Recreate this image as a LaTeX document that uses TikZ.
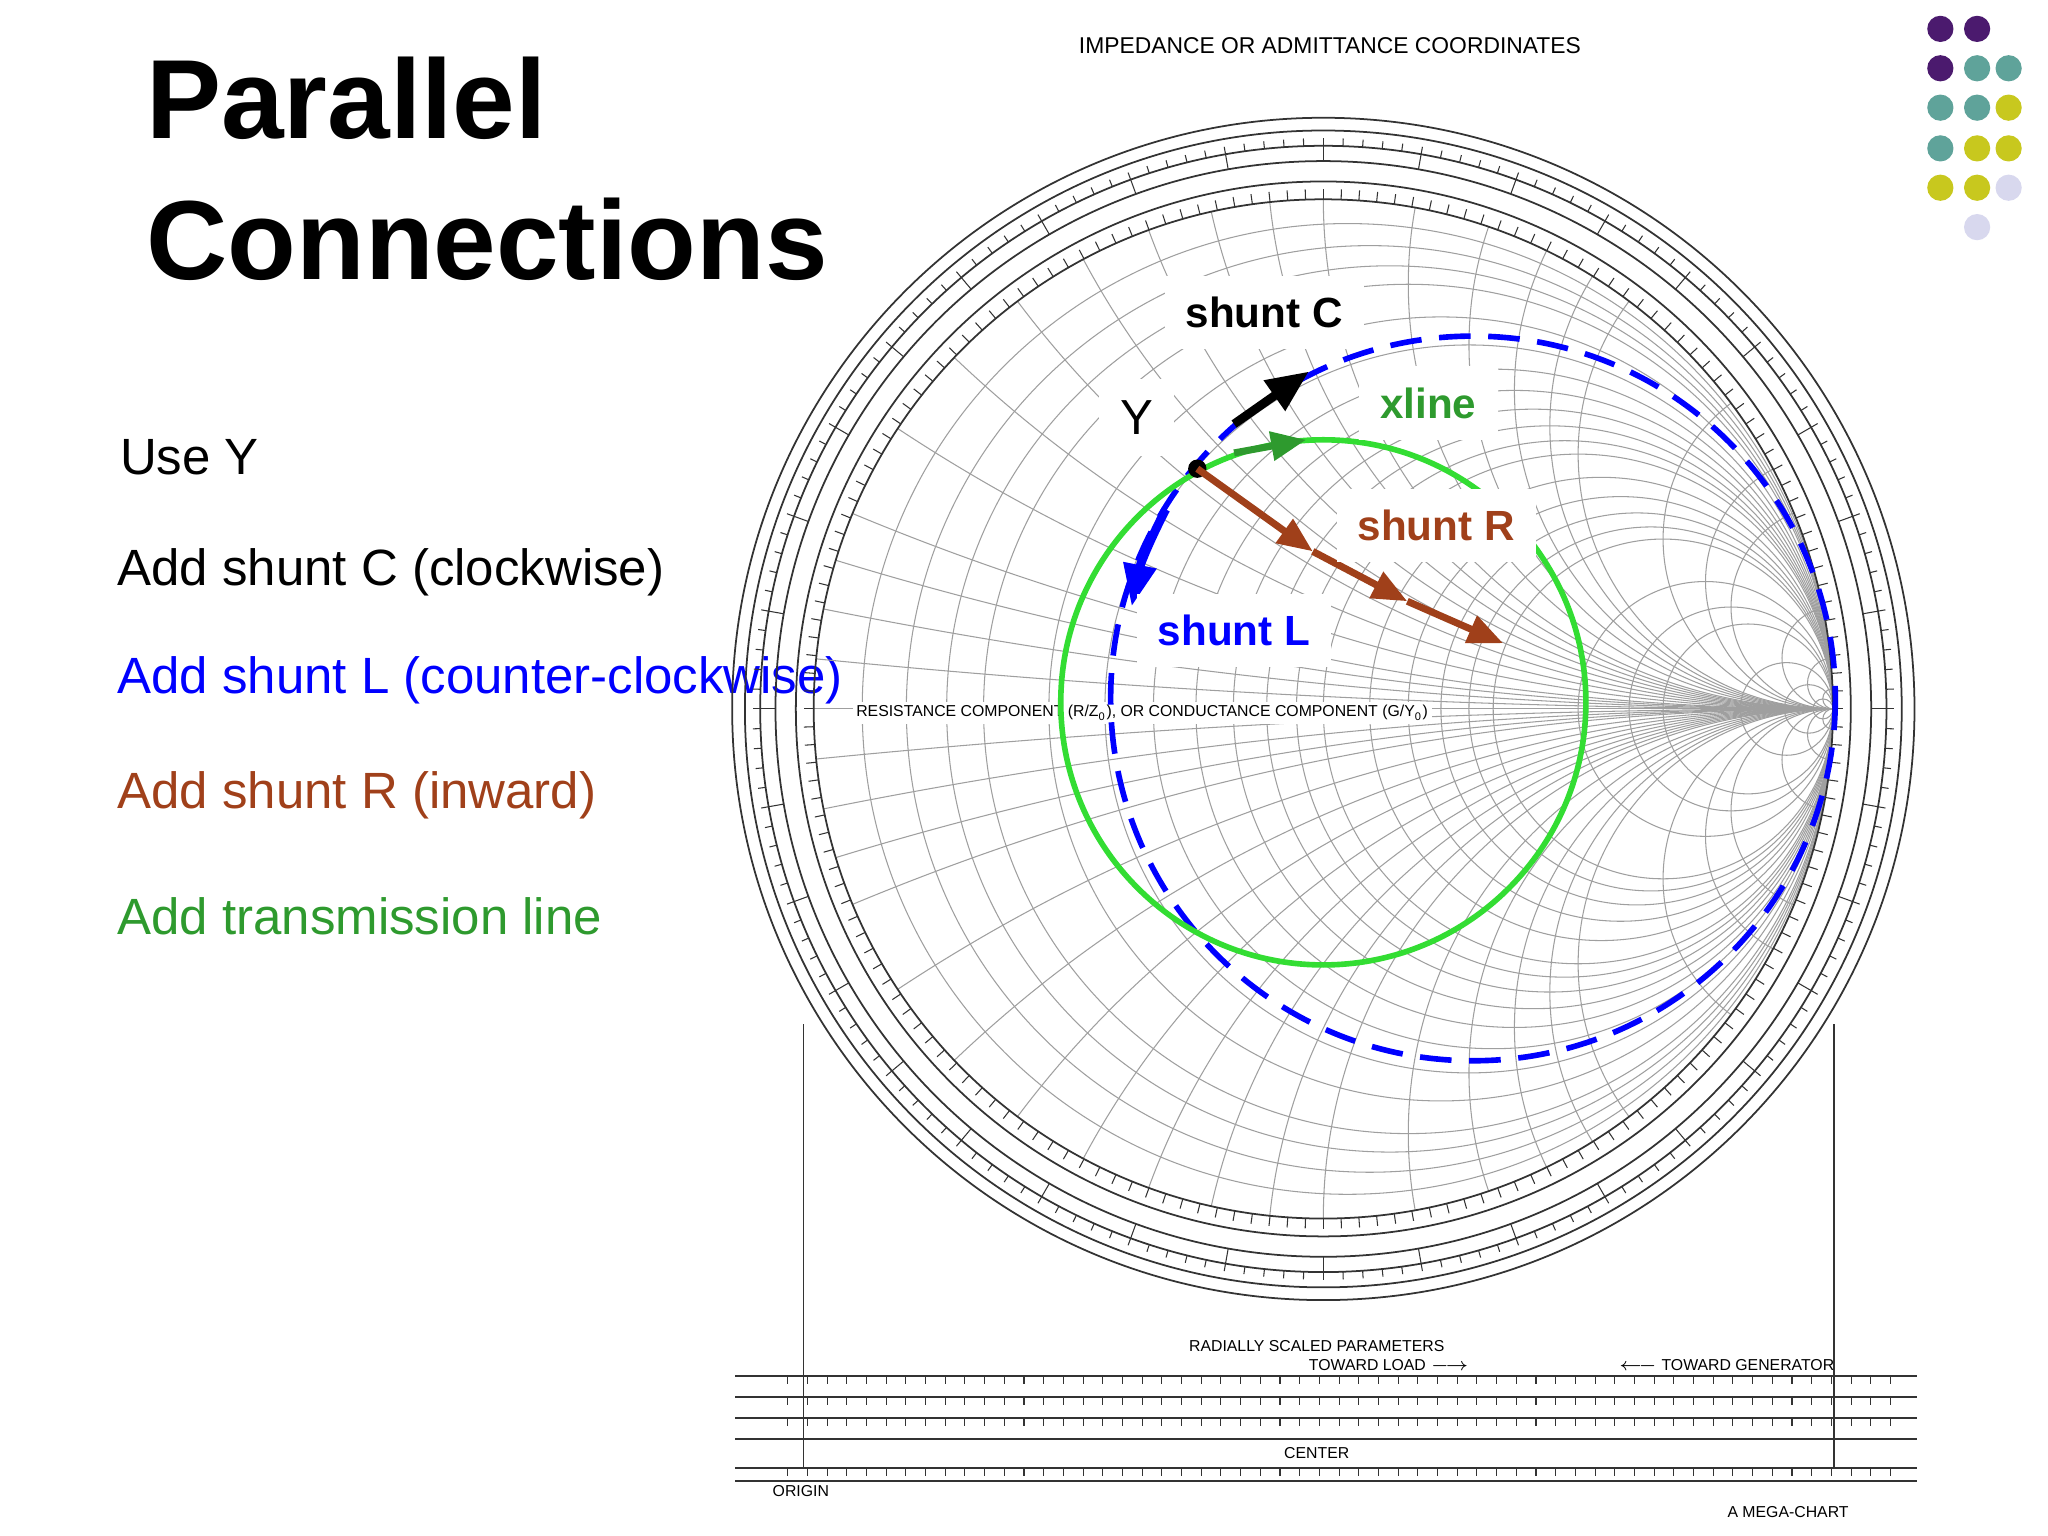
\documentclass[tikz,border=0pt]{standalone}
\usepackage{fontspec}
\setmainfont{Liberation Sans}
\usetikzlibrary{arrows.meta}
\definecolor{brn}{HTML}{A0401A}
\definecolor{grn}{HTML}{2E9A2E}
\definecolor{lgrn}{HTML}{33DD33}
\definecolor{dpur}{HTML}{4B1A6E}
\definecolor{teal2}{HTML}{5FA39A}
\definecolor{yel}{HTML}{C8C81E}
\definecolor{lav}{HTML}{D8D8EE}
\begin{document}
\begin{tikzpicture}[x=0.01313cm,y=-0.01313cm,
  grid/.style={gray!75,line width=0.3pt},
  ring/.style={black!80,line width=0.5pt},
  lab/.style={fill=white,inner sep=6pt,font=\bfseries\fontsize{12}{14}\selectfont},
  body/.style={anchor=west,font=\fontsize{14.5}{17}\selectfont},
  tiny/.style={font=\fontsize{4.5}{5}\selectfont}]
\useasboundingbox (0,0) rectangle (1560,1170);
% title
\node[anchor=west,font=\bfseries\fontsize{32}{36}\selectfont] (t1) at (102,75) {Parallel};
\node[anchor=west,font=\bfseries\fontsize{32}{36}\selectfont] (t2) at (102,182) {Connections};
\node[body] (b1) at (82,348) {Use Y};
\node[body] (b2) at (80,436) {Add shunt C (clockwise)};
\node[body,text=blue] (b3) at (80,518) {Add shunt L (counter-clockwise)};
\node[body,text=brn] (b4) at (80,606) {Add shunt R (inward)};
\node[body,text=grn] (b5) at (80,698) {Add transmission line};
% chart header
\node[font=\fontsize{6.5}{7}\selectfont] (hd) at (1013,35) {IMPEDANCE OR ADMITTANCE COORDINATES};
% Smith grid
\begin{scope}[shift={(1008,540)},x=5.094cm,y=5.094cm]
 \begin{scope}
  \clip (0,0) circle (1);
  \foreach \r in {0.05,0.1,0.15,0.2,0.3,0.4,0.5,0.6,0.7,0.8,0.9,1,1.2,1.4,1.6,1.8,2,3,4,5,10,20,50}
    \draw[grid] ({\r/(1+\r)},0) circle ({1/(1+\r)});
  \foreach \x in {0.05,0.1,0.15,0.2,0.3,0.4,0.5,0.6,0.7,0.8,0.9,1,1.2,1.4,1.6,1.8,2,3,4,5,10,20,50}{
    \draw[grid] (1,{1/\x}) circle ({1/\x});
    \draw[grid] (1,{-1/\x}) circle ({1/\x});}
  \draw[grid] (-1,0) -- (1,0);
 \end{scope}
 \foreach \rr in {1,1.035,1.075,1.105,1.135,1.16}
   \draw[ring] (0,0) circle (\rr);
 \foreach \a in {0,2,...,358}{
   \draw[ring,line width=0.3pt] (\a:1) -- (\a:1.02);
   \draw[ring,line width=0.3pt] (\a:1.105) -- (\a:1.12);}
 \foreach \a in {0,10,...,350}{
   \draw[ring,line width=0.3pt] (\a:1.075) -- (\a:1.105);}
\end{scope}
\node[tiny,fill=white,inner sep=1pt] (rc) at (870,543) {RESISTANCE COMPONENT (R/Z\textsubscript{0}), OR CONDUCTANCE COMPONENT (G/Y\textsubscript{0})};
% lower scale strip
\draw[ring] (612,780) -- (612,1118);
\draw[ring] (1397,780) -- (1397,1118);
\foreach \yy in {1048,1064,1080,1096,1118,1128}
  \draw[ring] (560,\yy) -- (1460,\yy);
\foreach \xx in {600,615,...,1450}{
  \draw[ring,line width=0.3pt] (\xx,1048) -- (\xx,1054);
  \draw[ring,line width=0.3pt] (\xx,1064) -- (\xx,1070);
  \draw[ring,line width=0.3pt] (\xx,1080) -- (\xx,1086);
  \draw[ring,line width=0.3pt] (\xx,1118) -- (\xx,1124);}
\node[tiny] (rs) at (1003,1025) {RADIALLY SCALED PARAMETERS};
\node[tiny] (tl) at (1058,1040) {TOWARD LOAD $\longrightarrow$};
\node[tiny] (tg) at (1315,1040) {$\longleftarrow$ TOWARD GENERATOR};
\node[tiny] (ce) at (1003,1107) {CENTER};
\node[tiny] (or) at (610,1136) {ORIGIN};
\node[tiny] (mc) at (1362,1152) {A MEGA-CHART};
% overlay circles
\draw[blue,line width=1.6pt,dash pattern=on 9pt off 5pt] (1122,532) circle [radius=276];
\draw[lgrn,line width=1.6pt] (1008,535) circle [radius=200];
\coordinate (P) at (912,357);
\fill (P) circle [radius=7];
\coordinate (c1) at (940,323); \coordinate (c2) at (997,283);
\draw[line width=2.5pt,-{Triangle[length=12pt,width=10pt]}] (c1) -- (c2);
\coordinate (g1) at (940,345); \coordinate (g2) at (995,335);
\draw[grn,line width=2pt,-{Triangle[length=10pt,width=8pt]}] (g1) -- (g2);
\coordinate (r1) at (1000,420); \coordinate (r2) at (1072,458); \coordinate (r3) at (1145,490);
\draw[brn,line width=2pt,-{Triangle[length=10pt,width=8pt]}] (P) -- (r1);
\draw[brn,line width=2pt,-{Triangle[length=10pt,width=8pt]}] (r1) -- (r2);
\draw[brn,line width=2pt,-{Triangle[length=10pt,width=8pt]}] (r2) -- (r3);
\coordinate (l1) at (888,388); \coordinate (l2) at (862,462);
\draw[blue,line width=2.5pt,-{Triangle[length=12pt,width=9pt]}] (l1) to[bend right=8] (l2);
\node[lab] (sc) at (963,238) {shunt C};
\node[lab,font=\fontsize{14}{16}\selectfont] (y) at (866,318) {Y};
\node[lab,text=grn] (xl) at (1088,307) {xline};
\node[lab,text=brn] (sr) at (1094,400) {shunt R};
\node[lab,text=blue] (sl) at (940,480) {shunt L};
% dots
\foreach \cx/\cy/\cc in {1478/22/dpur,1506/22/dpur,1478/52/dpur,1506/52/teal2,1530/52/teal2,
  1478/82/teal2,1506/82/teal2,1530/82/yel,1478/113/teal2,1506/113/yel,1530/113/yel,
  1478/143/yel,1506/143/yel,1530/143/lav,1506/173/lav}
  \fill[\cc] (\cx,\cy) circle [radius=10];
\end{tikzpicture}
\end{document}
